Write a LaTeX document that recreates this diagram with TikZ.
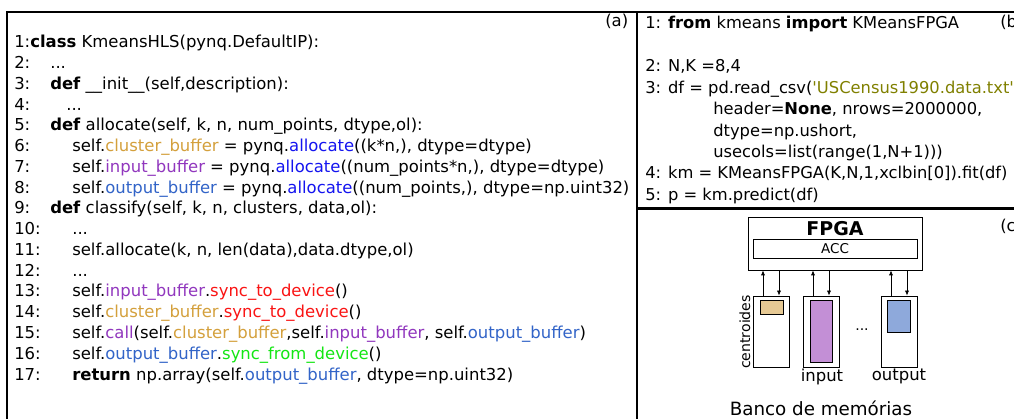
\documentclass[tikz,border=0pt]{standalone}
\usepackage{fontspec}
\setmainfont{DejaVu Sans}
\usetikzlibrary{arrows.meta}

\definecolor{clusterbuf}{RGB}{212,160,60}
\definecolor{inputbuf}{RGB}{145,55,190}
\definecolor{outputbuf}{RGB}{50,100,200}
\definecolor{alloccol}{RGB}{20,20,240}
\definecolor{synccol}{RGB}{250,20,20}
\definecolor{fromcol}{RGB}{20,230,20}
\definecolor{strcol}{RGB}{128,128,0}
\definecolor{centfill}{RGB}{230,201,148}
\definecolor{inpfill}{RGB}{195,143,214}
\definecolor{outfill}{RGB}{142,169,219}

% coloured words of the listing
\newcommand{\clusterbuf}{\textcolor{clusterbuf}{cluster\_buffer}}
\newcommand{\inputbuf}{\textcolor{inputbuf}{input\_buffer}}
\newcommand{\outputbuf}{\textcolor{outputbuf}{output\_buffer}}
\newcommand{\allocw}{\textcolor{alloccol}{allocate}}
\newcommand{\synctow}{\textcolor{synccol}{sync\_to\_device}}
\newcommand{\syncfromw}{\textcolor{fromcol}{sync\_from\_device}}
\newcommand{\callw}{\textcolor{inputbuf}{call}}

\tikzset{
  panel/.style={draw=black, line width=0.9pt},
  codeline/.style={anchor=base west, inner sep=0pt, font=\fontsize{11.7}{13}\selectfont},
  pyline/.style={anchor=base west, inner sep=0pt, font=\fontsize{11.6}{13}\selectfont},
  memcol/.style={draw, line width=0.6pt, minimum width=0.9cm, minimum height=1.775cm, inner sep=0pt},
  membuf/.style={draw, line width=0.5pt, inner sep=0pt},
  memarrow/.style={line width=0.5pt, -{Latex[length=3.5pt,width=3pt]}}
}

\begin{document}
\begin{tikzpicture}[x=0.025cm, y=-0.025cm]
  \clip (0,0) rectangle (1014,419);
  \fill[white] (0,0) rectangle (1014,419);

  % frames of the three panels
  \draw[panel] (7,12) rectangle (637,440);
  \draw[panel] (637,12) rectangle (1040,208);
  \draw[panel] (637,209) rectangle (1040,440);

  % (a) HLS driver class
  \node[codeline] (taga) at (605,27) {(a)};
  \foreach \i/\x/\code in {
    1/30/{\textbf{class} KmeansHLS(pynq.DefaultIP):},
    2/50/{...},
    3/50/{\textbf{def} \_\_init\_\_(self,description):},
    4/66/{...},
    5/50/{\textbf{def} allocate(self, k, n, num\_points, dtype,ol):},
    6/72/{self.\clusterbuf{} = pynq.\allocw((k*n,), dtype=dtype)},
    7/72/{self.\inputbuf{} = pynq.\allocw((num\_points*n,), dtype=dtype)},
    8/72/{self.\outputbuf{} = pynq.\allocw((num\_points,), dtype=np.uint32)},
    9/50/{\textbf{def} classify(self, k, n, clusters, data,ol):},
    10/72/{...},
    11/72/{self.allocate(k, n, len(data),data.dtype,ol)},
    12/72/{...},
    13/72/{self.\inputbuf.\synctow()},
    14/72/{self.\clusterbuf.\synctow()},
    15/72/{self.\callw(self.\clusterbuf,self.\inputbuf, self.\outputbuf)},
    16/72/{self.\outputbuf.\syncfromw()},
    17/72/{\textbf{return} np.array(self.\outputbuf, dtype=np.uint32)}
  }{
    \node[codeline] (num\i) at (14,{48+(\i-1)*20.75}) {\i:};
    \node[codeline] (code\i) at (\x,{48+(\i-1)*20.75}) {\code};
  }

  % (b) user side in python
  \node[pyline] (tagb) at (1000,28) {(b)};
  \foreach \y/\x/\code/\name in {
    28.5/645/{1: \textbf{from} kmeans \textbf{import} KMeansFPGA}/p1,
    72/645/{2: N,K =8,4}/p2,
    93.5/645/{3: df = pd.read\_csv(\textcolor{strcol}{\textquotesingle USCensus1990.data.txt\textquotesingle},}/p3,
    115/713/{header=\textbf{None}, nrows=2000000,}/p3b,
    136.5/713/{dtype=np.ushort,}/p3c,
    158/713/{usecols=list(range(1,N+1)))}/p3d,
    179/645/{4: km = KMeansFPGA(K,N,1,xclbin[0]).fit(df)}/p4,
    200.5/645/{5: p = km.predict(df)}/p5
  }{
    \node[pyline] (\name) at (\x,\y) {\code};
  }

  % (c) FPGA and its memory banks
  \node[pyline] (tagc) at (1000,232) {(c)};
  \node[draw, line width=0.6pt, minimum width=4.35cm, minimum height=1.325cm, inner sep=0pt] (fpga) at (835,243.5) {};
  \node[font=\fontsize{13.5}{15}\selectfont\bfseries, inner sep=0pt] (fpgatxt) at (835,229) {FPGA};
  \node[draw, line width=0.5pt, minimum width=4.1cm, minimum height=0.475cm, inner sep=0pt,
        font=\fontsize{9.6}{11}\selectfont] (acc) at (835,248.5) {ACC};

  \node[memcol] (mcent) at (771,331.5) {};
  \node[memcol] (minput) at (821,331.5) {};
  \node[memcol] (moutput) at (899,331.5) {};
  \node[membuf, fill=centfill, minimum width=0.575cm, minimum height=0.35cm] (bcent) at (771.5,307) {};
  \node[membuf, fill=inpfill, minimum width=0.55cm, minimum height=1.55cm] (binput) at (821,331) {};
  \node[membuf, fill=outfill, minimum width=0.575cm, minimum height=0.8cm] (boutput) at (898.5,316) {};

  \foreach \c in {mcent,minput,moutput}{
    \draw[memarrow] ([xshift=-0.2cm]\c.north) -- ([xshift=-0.2cm]\c.north |- fpga.south);
    \draw[memarrow] ([xshift=0.2cm]\c.north |- fpga.south) -- ([xshift=0.2cm]\c.north);
  }

  \node[font=\fontsize{10}{12}\selectfont, rotate=90, inner sep=0pt] (lcent) at (745,332) {centroides};
  \node[font=\fontsize{11.7}{13}\selectfont, inner sep=0pt] (linput) at (822,377) {input};
  \node[font=\fontsize{11.7}{13}\selectfont, inner sep=0pt] (loutput) at (899,376) {output};
  \node[font=\fontsize{10}{12}\selectfont, inner sep=0pt] (ldots) at (862,330) {...};
  \node[font=\fontsize{13}{15}\selectfont, inner sep=0pt] (lbank) at (821,408) {Banco de memórias};
\end{tikzpicture}
\end{document}
